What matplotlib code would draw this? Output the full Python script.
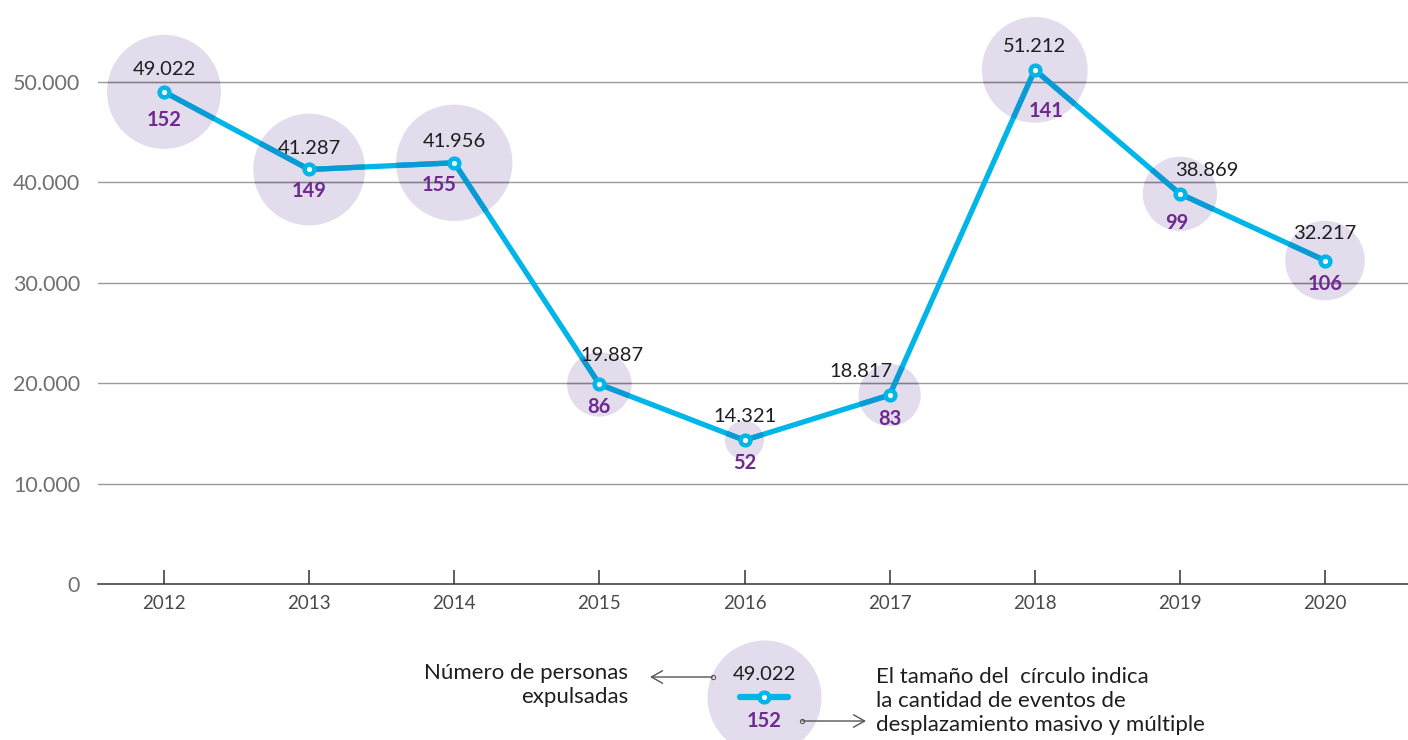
import matplotlib
matplotlib.use("Agg")
import matplotlib.pyplot as plt
from matplotlib.patches import Circle
from matplotlib.transforms import IdentityTransform

# Personas expulsadas y eventos de desplazamiento masivo/múltiple por año
years = [2012, 2013, 2014, 2015, 2016, 2017, 2018, 2019, 2020]
personas = [49022, 41287, 41956, 19887, 14321, 18817, 51212, 38869, 32217]
eventos = [152, 149, 155, 86, 52, 83, 141, 99, 106]
ytick_values = [0, 10000, 20000, 30000, 40000, 50000]

CYAN = "#00B5E7"
CYAN_DARK = "#0A9BD5"   # line where it crosses a circle
LAVENDER = "#E3DCEC"
PURPLE = "#6E2A8E"
TEXT = "#1E1E1E"
GRID = "#9A9A9A"
GRID_DARK = "#847E8A"

plt.rcParams["font.family"] = ["Lato", "DejaVu Sans"]

DPI = 100
W, H = 1408, 740
PX_PER_EVENT = 0.375  # circle radius in pixels per event


def fmt_miles(v):
    return f"{v:,}".replace(",", ".")


def circle_size(n):
    # scatter size (pt^2) for a circle whose radius scales with n
    r_pt = PX_PER_EVENT * n * 72 / DPI
    return (2 * r_pt) ** 2


# label offsets in pixels (value above, count below)
value_offsets = [(0, 22), (0, 21), (0, 21), (13, 29), (0, 24), (-29, 24), (0, 23), (27, 23), (0, 27)]
count_offsets = [(0, -28), (0, -22), (-15, -22), (0, -23), (0, -23), (0, -24), (11, -41), (-3, -29), (0, -23)]

fig = plt.figure(figsize=(W / DPI, H / DPI), dpi=DPI)
ax = fig.add_axes([98 / W, 156 / H, 1310 / W, 584 / H])
ax.set_xlim(2011.545, 2020.572)
ax.set_ylim(0, 58170)

ax.scatter(years, personas, s=[circle_size(n) for n in eventos], color=LAVENDER,
           linewidths=0, zorder=1, clip_on=False)
for y in ytick_values[1:]:
    ax.axhline(y, color=GRID, linewidth=1.0, zorder=2)
ax.plot(years, personas, color=CYAN, linewidth=3.8, solid_joinstyle="round", zorder=3)

# darker copies of line and grid inside each circle
for x, v, n in zip(years, personas, eventos):
    px, py = ax.transData.transform((x, v))
    clip = Circle((px, py), PX_PER_EVENT * n, transform=IdentityTransform())
    for y in ytick_values[1:]:
        g = ax.axhline(y, color=GRID_DARK, linewidth=1.0, zorder=2.1)
        g.set_clip_path(clip)
    ln, = ax.plot(years, personas, color=CYAN_DARK, linewidth=3.8,
                  solid_joinstyle="round", zorder=3.1)
    ln.set_clip_path(clip)

ax.plot(years, personas, linestyle="none", zorder=3.5, marker="o", markersize=7,
        markerfacecolor="white", markeredgecolor=CYAN, markeredgewidth=3.2, clip_on=False)

for x, v, n, vo, co in zip(years, personas, eventos, value_offsets, count_offsets):
    ax.annotate(fmt_miles(v), (x, v), xytext=vo, textcoords="offset pixels",
                ha="center", va="center", fontsize=14.5, color=TEXT, zorder=5)
    ax.annotate(str(n), (x, v), xytext=co, textcoords="offset pixels",
                ha="center", va="center", fontsize=14.5, fontweight="bold",
                color=PURPLE, zorder=5)

ax.set_xticks(years)
ax.set_xticklabels([str(y) for y in years])
ax.set_yticks(ytick_values)
ax.set_yticklabels([fmt_miles(v) for v in ytick_values])
for side in ["top", "right", "left"]:
    ax.spines[side].set_visible(False)
ax.spines["bottom"].set_color("#333333")
ax.spines["bottom"].set_linewidth(1.1)
ax.spines["bottom"].set_zorder(4)
ax.tick_params(axis="x", direction="in", length=10, width=1.1, color="#333333",
               labelsize=13.5, labelcolor="#4A4A4A", pad=8)
ax.tick_params(axis="y", length=0, labelsize=15.5, labelcolor="#707070", pad=13)
ax.set_facecolor("none")

# key: circle + line sample explained by two arrows
leg = fig.add_axes([0, 0, 1, 1], zorder=-1)
leg.set_xlim(0, W)
leg.set_ylim(H, 0)
leg.axis("off")
leg.patch.set_alpha(0)

cx, cy = 764, 697
leg.scatter([cx], [cy], s=circle_size(eventos[0]), color=LAVENDER, linewidths=0, clip_on=False)
leg.plot([cx - 24, cx + 24], [cy, cy], color=CYAN, linewidth=4.5, solid_capstyle="round")
leg.plot([cx], [cy], marker="o", markersize=7, markerfacecolor="white",
         markeredgecolor=CYAN, markeredgewidth=3.2)
leg.text(cx, cy - 22, fmt_miles(personas[0]), ha="center", va="center", fontsize=14.5, color=TEXT)
leg.text(cx, cy + 24, str(eventos[0]), ha="center", va="center", fontsize=14.5,
         fontweight="bold", color=PURPLE)

arrow_kw = dict(arrowstyle="->,head_length=0.8,head_width=0.45", color="#555555",
                lw=1.0, shrinkA=0, shrinkB=0)
leg.annotate("", xy=(650, 677), xytext=(713, 677), arrowprops=arrow_kw)
leg.plot([713], [677], marker="o", markersize=3, markerfacecolor="white",
         markeredgecolor="#555555", markeredgewidth=0.8)
leg.annotate("", xy=(866, 721), xytext=(802, 721), arrowprops=arrow_kw)
leg.plot([802], [721], marker="o", markersize=3, markerfacecolor="white",
         markeredgecolor="#555555", markeredgewidth=0.8)

leg.text(628, 685, "Número de personas\nexpulsadas", ha="right", va="center",
         multialignment="right", fontsize=16, color=TEXT, linespacing=1.25)
leg.text(876, 701, "El tamaño del  círculo indica\nla cantidad de eventos de\ndesplazamiento masivo y múltiple",
         ha="left", va="center", fontsize=16, color=TEXT, linespacing=1.22)

fig.savefig("out.png", dpi=DPI)
